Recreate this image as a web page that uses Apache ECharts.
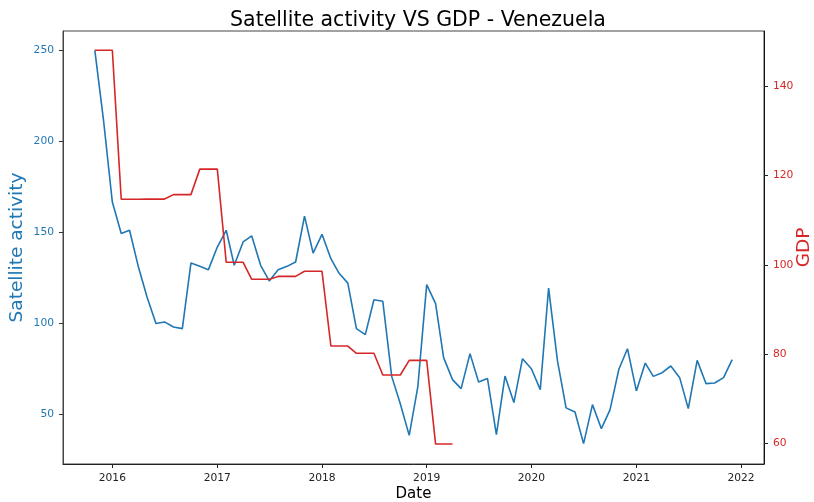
<!DOCTYPE html>
<html>
<head>
<meta charset="utf-8">
<script src="https://cdn.jsdelivr.net/npm/echarts@6/dist/echarts.min.js"></script>
<style>
  html, body { margin: 0; padding: 0; background: #fff; }
  #chart { width: 814px; height: 502px; }
</style>
</head>
<body>
<div id="chart"></div>
<script>
// Monthly satellite activity, Nov 2015 – Dec 2021
const activityMonths = [
  '2015-11-01','2015-12-01',
  '2016-01-01','2016-02-01','2016-03-01','2016-04-01','2016-05-01','2016-06-01',
  '2016-07-01','2016-08-01','2016-09-01','2016-10-01','2016-11-01','2016-12-01',
  '2017-01-01','2017-02-01','2017-03-01','2017-04-01','2017-05-01','2017-06-01',
  '2017-07-01','2017-08-01','2017-09-01','2017-10-01','2017-11-01','2017-12-01',
  '2018-01-01','2018-02-01','2018-03-01','2018-04-01','2018-05-01','2018-06-01',
  '2018-07-01','2018-08-01','2018-09-01','2018-10-01','2018-11-01','2018-12-01',
  '2019-01-01','2019-02-01','2019-03-01','2019-04-01','2019-05-01','2019-06-01',
  '2019-07-01','2019-08-01','2019-09-01','2019-10-01','2019-11-01','2019-12-01',
  '2020-01-01','2020-02-01','2020-03-01','2020-04-01','2020-05-01','2020-06-01',
  '2020-07-01','2020-08-01','2020-09-01','2020-10-01','2020-11-01','2020-12-01',
  '2021-01-01','2021-02-01','2021-03-01','2021-04-01','2021-05-01','2021-06-01',
  '2021-07-01','2021-08-01','2021-09-01','2021-10-01','2021-11-01','2021-12-01'
];
const activityValues = [
  250.0, 212.0,
  166.7, 149.4, 151.2, 131.0, 114.6, 100.0,
  100.9, 98.1, 97.2, 133.2, 131.4, 129.6,
  142.0, 151.2, 132.0, 144.8, 148.1, 132.0,
  123.4, 129.6, 131.4, 133.8, 159.0, 138.7,
  149.0, 135.6, 127.7, 122.2, 97.2, 93.9,
  113.1, 112.2, 71.0, 56.0, 38.6, 65.2,
  121.4, 110.9, 81.3, 69.2, 64.3, 83.5,
  67.9, 69.8, 39.0, 71.2, 56.6, 80.7,
  75.2, 63.7, 119.5, 79.5, 53.7, 51.4,
  34.1, 55.5, 42.3, 52.6, 74.9, 86.2,
  63.0, 78.3, 71.0, 73.0, 76.7, 70.3,
  53.3, 79.8, 67.0, 67.4, 70.3, 80.2
];

// Monthly GDP index, Nov 2015 – Apr 2019 (quarterly figures held for each month)
const gdpMonths = activityMonths.slice(0, 42);
const gdpValues = [
  148.0, 148.0, 148.0,
  114.65, 114.65, 114.65,
  114.7, 114.7, 114.7,
  115.7, 115.7, 115.7,
  121.4, 121.4, 121.4,
  100.56, 100.56, 100.56,
  96.76, 96.76, 96.76,
  97.4, 97.4, 97.4,
  98.55, 98.55, 98.55,
  81.83, 81.83, 81.83,
  80.2, 80.2, 80.2,
  75.35, 75.35, 75.35,
  78.63, 78.63, 78.63,
  59.9, 59.9, 59.9
];

// Axis ticks
const yearTicks = ['2016-01-01','2017-01-01','2018-01-01','2019-01-01','2020-01-01','2021-01-01','2022-01-01'];
const activityTicks = [50, 100, 150, 200, 250];
const gdpTicks = [60, 80, 100, 120, 140];

const BLUE = '#1f77b4';
const RED = '#d62728';
const FONT = 'DejaVu Sans';
const TICK_FONT = 10.7;
const toTs = d => Date.parse(d + 'T00:00:00Z');
const yearTs = yearTicks.map(toTs);

const chart = echarts.init(document.getElementById('chart'), null, { renderer: 'canvas' });
chart.setOption({
  animation: false,
  backgroundColor: '#ffffff',
  textStyle: { fontFamily: FONT },
  title: {
    text: 'Satellite activity VS GDP - Venezuela',
    left: 413, top: 5, textAlign: 'center',
    textStyle: { fontFamily: FONT, fontSize: 20.5, fontWeight: 'normal', color: '#000' }
  },
  grid: {
    left: 63, right: 50, top: 31, bottom: 38,
    containLabel: false, outerBoundsMode: 'none',
    show: true, borderColor: '#444', borderWidth: 1, backgroundColor: 'transparent'
  },
  xAxis: {
    type: 'value',
    min: toTs('2015-07-13'),
    max: toTs('2022-03-22'),
    name: 'Date', nameLocation: 'middle', nameGap: 23, nameMoveOverlap: false,
    nameTextStyle: { fontFamily: FONT, fontSize: 15, color: '#000' },
    axisLine: { show: true, lineStyle: { color: '#222', width: 1 } },
    axisTick: { show: true, length: 4, lineStyle: { color: '#222' }, customValues: yearTs },
    axisLabel: {
      fontFamily: FONT, fontSize: TICK_FONT, color: '#222', margin: 8.5,
      customValues: yearTs,
      formatter: v => String(new Date(v).getUTCFullYear())
    },
    splitLine: { show: false }
  },
  yAxis: [
    {
      type: 'value', position: 'left',
      min: 22.9, max: 260.6,
      name: 'Satellite activity', nameLocation: 'middle', nameGap: 36, nameRotate: 90,
      nameMoveOverlap: false,
      nameTextStyle: { fontFamily: FONT, fontSize: 18.5, color: BLUE },
      axisLine: { show: true, lineStyle: { color: '#444', width: 1 } },
      axisTick: { show: true, length: 4, lineStyle: { color: '#333' }, customValues: activityTicks },
      axisLabel: { fontFamily: FONT, fontSize: TICK_FONT, color: BLUE, margin: 9, customValues: activityTicks },
      splitLine: { show: false }
    },
    {
      type: 'value', position: 'right',
      min: 55.44, max: 152.3,
      name: 'GDP', nameLocation: 'middle', nameGap: 31, nameRotate: 90,
      nameMoveOverlap: false,
      nameTextStyle: { fontFamily: FONT, fontSize: 18.5, color: RED },
      axisLine: { show: true, lineStyle: { color: '#111', width: 1 } },
      axisTick: { show: true, length: 4, lineStyle: { color: '#222' }, customValues: gdpTicks },
      axisLabel: { fontFamily: FONT, fontSize: TICK_FONT, color: RED, margin: 9, customValues: gdpTicks },
      splitLine: { show: false }
    }
  ],
  series: [
    {
      name: 'Satellite activity', type: 'line', yAxisIndex: 0,
      data: activityMonths.map((d, i) => [toTs(d), activityValues[i]]),
      showSymbol: false, symbol: 'none',
      lineStyle: { color: BLUE, width: 1.6 }
    },
    {
      name: 'GDP', type: 'line', yAxisIndex: 1,
      data: gdpMonths.map((d, i) => [toTs(d), gdpValues[i]]),
      showSymbol: false, symbol: 'none',
      lineStyle: { color: RED, width: 1.6 }
    }
  ]
});
</script>
</body>
</html>
